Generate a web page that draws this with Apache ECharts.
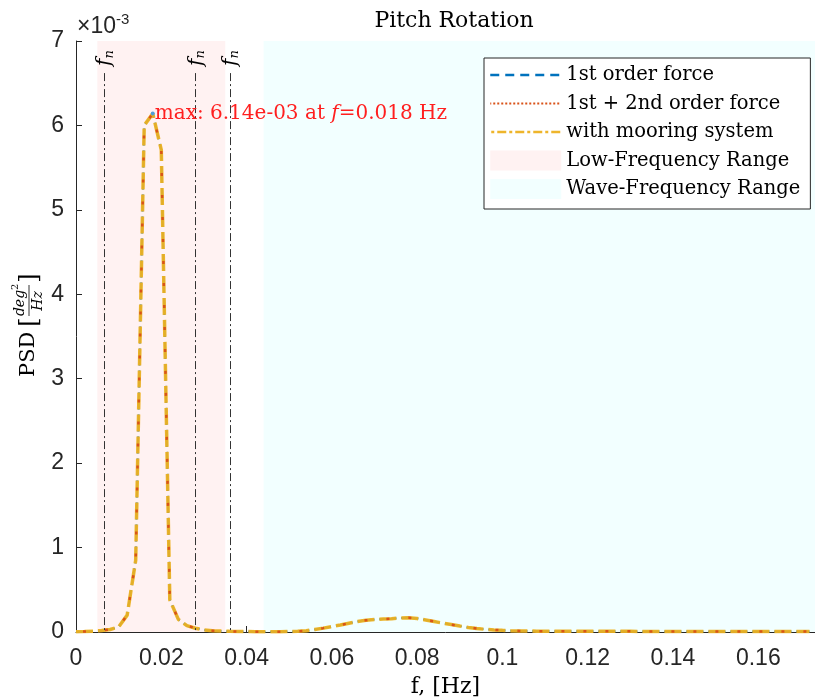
<!DOCTYPE html>
<html>
<head>
<meta charset="utf-8">
<script src="https://cdn.jsdelivr.net/npm/echarts@6/dist/echarts.min.js"></script>
<style>
  html, body { margin: 0; padding: 0; background: #ffffff; }
  #chart { width: 815px; height: 700px; }
</style>
</head>
<body>
<div id="chart"></div>
<script>
// Frequency grid of the pitch-rotation spectrum, Hz
const freqHz = [
  0.000, 0.002, 0.004, 0.006, 0.008, 0.010, 0.012, 0.014, 0.016, 0.018,
  0.020, 0.022, 0.024, 0.026, 0.028, 0.030, 0.032, 0.034, 0.036, 0.038,
  0.040, 0.042, 0.044, 0.046, 0.048, 0.050, 0.052, 0.054, 0.056, 0.058,
  0.060, 0.062, 0.064, 0.066, 0.068, 0.070, 0.072, 0.074, 0.076, 0.078,
  0.080, 0.082, 0.084, 0.086, 0.088, 0.090, 0.092, 0.094, 0.096, 0.098,
  0.100, 0.102, 0.104, 0.106, 0.108, 0.110, 0.112, 0.114, 0.116, 0.118,
  0.120, 0.122, 0.124, 0.126, 0.128, 0.130, 0.132, 0.134, 0.136, 0.138,
  0.140, 0.142, 0.144, 0.146, 0.148, 0.150, 0.152, 0.154, 0.156, 0.158,
  0.160, 0.162, 0.164, 0.166, 0.168, 0.170, 0.172
];

// PSD in units of 1e-3 deg^2/Hz (the three load cases coincide)
const psdFirstOrder = [
  0.004, 0.006, 0.010, 0.018, 0.030, 0.060, 0.200, 0.850, 6.000, 6.140,
  5.710, 0.380, 0.150, 0.075, 0.045, 0.025, 0.015, 0.011, 0.008, 0.006,
  0.005, 0.004, 0.004, 0.004, 0.004, 0.005, 0.008, 0.016, 0.030, 0.046,
  0.065, 0.083, 0.104, 0.124, 0.138, 0.147, 0.153, 0.157, 0.165, 0.170,
  0.160, 0.142, 0.124, 0.105, 0.088, 0.070, 0.054, 0.041, 0.032, 0.025,
  0.020, 0.016, 0.013, 0.011, 0.010, 0.009, 0.008, 0.008, 0.008, 0.008,
  0.008, 0.008, 0.008, 0.008, 0.008, 0.008, 0.007, 0.007, 0.007, 0.007,
  0.007, 0.007, 0.007, 0.007, 0.007, 0.007, 0.006, 0.006, 0.006, 0.006,
  0.006, 0.006, 0.006, 0.006, 0.006, 0.006, 0.006
];
const psdSecondOrder = [
  0.004, 0.006, 0.010, 0.018, 0.030, 0.060, 0.200, 0.850, 6.000, 6.140,
  5.710, 0.380, 0.150, 0.075, 0.045, 0.025, 0.015, 0.011, 0.008, 0.006,
  0.005, 0.004, 0.004, 0.004, 0.004, 0.005, 0.008, 0.016, 0.030, 0.046,
  0.065, 0.083, 0.104, 0.124, 0.138, 0.147, 0.153, 0.157, 0.165, 0.170,
  0.160, 0.142, 0.124, 0.105, 0.088, 0.070, 0.054, 0.041, 0.032, 0.025,
  0.020, 0.016, 0.013, 0.011, 0.010, 0.009, 0.008, 0.008, 0.008, 0.008,
  0.008, 0.008, 0.008, 0.008, 0.008, 0.008, 0.007, 0.007, 0.007, 0.007,
  0.007, 0.007, 0.007, 0.007, 0.007, 0.007, 0.006, 0.006, 0.006, 0.006,
  0.006, 0.006, 0.006, 0.006, 0.006, 0.006, 0.006
];
const psdMooring = [
  0.004, 0.006, 0.010, 0.018, 0.030, 0.060, 0.200, 0.850, 6.000, 6.140,
  5.710, 0.380, 0.150, 0.075, 0.045, 0.025, 0.015, 0.011, 0.008, 0.006,
  0.005, 0.004, 0.004, 0.004, 0.004, 0.005, 0.008, 0.016, 0.030, 0.046,
  0.065, 0.083, 0.104, 0.124, 0.138, 0.147, 0.153, 0.157, 0.165, 0.170,
  0.160, 0.142, 0.124, 0.105, 0.088, 0.070, 0.054, 0.041, 0.032, 0.025,
  0.020, 0.016, 0.013, 0.011, 0.010, 0.009, 0.008, 0.008, 0.008, 0.008,
  0.008, 0.008, 0.008, 0.008, 0.008, 0.008, 0.007, 0.007, 0.007, 0.007,
  0.007, 0.007, 0.007, 0.007, 0.007, 0.007, 0.006, 0.006, 0.006, 0.006,
  0.006, 0.006, 0.006, 0.006, 0.006, 0.006, 0.006
];

// Natural frequencies marked with dash-dot lines, Hz
const naturalFreqs = [0.0066, 0.0280, 0.0361];
// Frequency bands, Hz
const lowFreqBand = [0.005, 0.035];
const waveFreqBand = [0.044, 0.1733];

const seriesNames = ['1st order force', '1st + 2nd order force', 'with mooring system',
  'Low-Frequency Range', 'Wave-Frequency Range'];

const xMin = 0, xMax = 0.1733, xStep = 0.02;
const yMin = 0, yMax = 7, yStep = 1;
const fnLineTop = 6.62;

const SERIF = '"DejaVu Serif", "Liberation Serif", serif';
const SANS = '"Liberation Sans", Arial, Helvetica, sans-serif';
const AX = '#262626';

const pairs = arr => freqHz.map((f, i) => [f, arr[i]]);

// Peak of the response
let peakIdx = 0;
psdMooring.forEach((v, i) => { if (v > psdMooring[peakIdx]) peakIdx = i; });
const peakF = freqHz[peakIdx], peakV = psdMooring[peakIdx];

const chart = echarts.init(document.getElementById('chart'), null, { renderer: 'canvas' });

const hiddenSymbol = { opacity: 0 };

const option = {
  animation: false,
  backgroundColor: '#ffffff',
  title: {
    text: 'Pitch Rotation',
    left: 449, top: 5,
    textAlign: 'center',
    textStyle: { fontFamily: SERIF, fontSize: 22, fontWeight: 'normal', color: '#000' }
  },
  grid: { left: 76, right: 0, top: 41, bottom: 68, containLabel: false, outerBoundsMode: 'none' },
  legend: {
    orient: 'vertical',
    left: 484, top: 58,
    padding: [7, 10, 10, 5],
    itemGap: 8.5,
    itemWidth: 71, itemHeight: 20,
    backgroundColor: '#ffffff',
    borderColor: AX, borderWidth: 1,
    textStyle: { fontFamily: SERIF, fontSize: 19.5, color: '#000', lineHeight: 20 },
    data: [
      { name: seriesNames[0], itemStyle: hiddenSymbol, lineStyle: { color: '#0072BD', width: 2.5, type: [9, 6] } },
      { name: seriesNames[1], itemStyle: hiddenSymbol, lineStyle: { color: '#D95319', width: 2, type: [2, 2] } },
      { name: seriesNames[2], itemStyle: hiddenSymbol, lineStyle: { color: '#EDB120', width: 2.5, type: [9, 3, 3, 3] } },
      { name: seriesNames[3], icon: 'rect', itemStyle: { color: '#fff2f2' } },
      { name: seriesNames[4], icon: 'rect', itemStyle: { color: '#f2ffff' } }
    ],
    selectedMode: false
  },
  xAxis: {
    type: 'value',
    min: xMin, max: xMax, interval: xStep,
    name: 'f, [Hz]', nameLocation: 'middle', nameGap: 44,
    nameTextStyle: { fontFamily: SERIF, fontSize: 22, color: '#000' },
    axisLine: { show: true, onZero: false, lineStyle: { color: AX, width: 1 } },
    axisTick: { show: true, inside: true, length: 6, lineStyle: { color: AX } },
    axisLabel: {
      margin: 15, fontFamily: SANS, fontSize: 23, color: AX, showMaxLabel: false,
      formatter: v => {
        const k = Math.round(v / xStep);
        if (Math.abs(k * xStep - v) > 1e-9) return '';
        return String(+(k * xStep).toFixed(2));
      }
    },
    splitLine: { show: false }
  },
  yAxis: {
    type: 'value',
    min: yMin, max: yMax, interval: yStep,
    name: '{a|\u00d710}{b|-3}', nameLocation: 'end', nameGap: 3,
    nameTextStyle: {
      align: 'left', verticalAlign: 'bottom', padding: [0, 0, 0, 1],
      rich: {
        a: { fontFamily: SANS, fontSize: 23, color: AX, verticalAlign: 'bottom', lineHeight: 26 },
        b: { fontFamily: SANS, fontSize: 15, color: AX, verticalAlign: 'top', lineHeight: 26 }
      }
    },
    axisLine: { show: true, onZero: false, lineStyle: { color: AX, width: 1 } },
    axisTick: { show: true, inside: true, length: 6, lineStyle: { color: AX } },
    axisLabel: { margin: 12, fontFamily: SANS, fontSize: 23, color: AX },
    splitLine: { show: false }
  },
  series: [
    {
      name: seriesNames[3], type: 'line', data: [], z: 0,
      itemStyle: { color: '#fff2f2' },
      markArea: {
        silent: true,
        itemStyle: { color: '#fff2f2' },
        data: [[{ xAxis: lowFreqBand[0] }, { xAxis: lowFreqBand[1] }]]
      }
    },
    {
      name: seriesNames[4], type: 'line', data: [], z: 0,
      itemStyle: { color: '#f2ffff' },
      markArea: {
        silent: true,
        itemStyle: { color: '#f2ffff' },
        data: [[{ xAxis: waveFreqBand[0] }, { xAxis: waveFreqBand[1] }]]
      }
    },
    {
      name: 'fn', type: 'line', data: [], z: 1,
      markLine: {
        silent: true, symbol: 'none',
        label: { show: false },
        lineStyle: { color: '#333333', width: 1, type: [8, 3, 2, 3] },
        data: naturalFreqs.map(f => [{ coord: [f, fnLineTop] }, { coord: [f, 0] }])
      }
    },
    {
      name: seriesNames[0], type: 'line', data: pairs(psdFirstOrder), z: 2,
      showSymbol: false, symbol: 'none',
      itemStyle: { color: '#0072BD' },
      lineStyle: { color: '#0072BD', width: 2, type: [17, 5] }
    },
    {
      name: seriesNames[2], type: 'line', data: pairs(psdMooring), z: 3,
      showSymbol: false, symbol: 'none',
      itemStyle: { color: '#EDB120' },
      lineStyle: { color: '#EDB120', width: 3.5, type: [17, 5], opacity: 0.95 },
      markPoint: {
        silent: true,
        symbol: 'circle', symbolSize: 4,
        itemStyle: { color: '#4f9fd8' },
        label: {
          show: true, position: 'right', distance: 0,
          formatter: () => '{t|max: ' + peakV.toFixed(2) + 'e-03 at }{i|f}{t|=' + peakF.toFixed(3) + ' Hz}',
          rich: {
            t: { fontFamily: SERIF, fontSize: 20, color: '#ff1f1f' },
            i: { fontFamily: SERIF, fontSize: 20, fontStyle: 'italic', color: '#ff1f1f' }
          }
        },
        data: [{ coord: [peakF, peakV] }]
      }
    },
    {
      name: seriesNames[1], type: 'line', data: pairs(psdSecondOrder), z: 4,
      showSymbol: false, symbol: 'none',
      itemStyle: { color: '#D95319' },
      lineStyle: { color: '#D95319', width: 2.5, type: [3, 19], dashOffset: -7 }
    }
  ]
};

chart.setOption(option);

// Annotations placed through the axis scales
const fnLabels = naturalFreqs.map(f => {
  const p = chart.convertToPixel({ gridIndex: 0 }, [f, fnLineTop]);
  return {
    type: 'text',
    x: p[0] + 1, y: p[1] - 15,
    rotation: Math.PI / 2,
    silent: true,
    z: 10,
    style: {
      text: '{i|f}{s|n}',
      align: 'center', verticalAlign: 'middle',
      rich: {
        i: { fontFamily: SERIF, fontSize: 20, fontStyle: 'italic', fill: '#000' },
        s: { fontFamily: SERIF, fontSize: 13, fontStyle: 'italic', fill: '#000', padding: [8, 0, 0, 0] }
      }
    }
  };
});

const txt = (x, y, text, size, family, extra) => ({
  type: 'text', x: x, y: y,
  style: Object.assign({ text: text, fontSize: size, fontFamily: family, fill: '#000',
    verticalAlign: 'middle', align: 'left' }, extra || {})
});

chart.setOption({
  graphic: [
    // y-axis title: PSD [deg^2 / Hz]
    {
      type: 'group', x: 29, y: 377, rotation: Math.PI / 2, silent: true,
      children: [
        txt(0, 0, 'PSD', 21, SERIF),
        txt(50, 0, '[', 25, SERIF),
        txt(74, -9, 'deg', 14, SERIF, { fontStyle: 'italic', align: 'center' }),
        txt(87, -14, '2', 10, SERIF),
        { type: 'line', shape: { x1: 61, y1: 0, x2: 92, y2: 0 }, style: { stroke: '#000', lineWidth: 0.8 } },
        txt(76, 9, 'Hz', 14, SERIF, { fontStyle: 'italic', align: 'center' }),
        txt(94, 0, ']', 25, SERIF)
      ]
    }
  ].concat(fnLabels)
});
</script>
</body>
</html>
